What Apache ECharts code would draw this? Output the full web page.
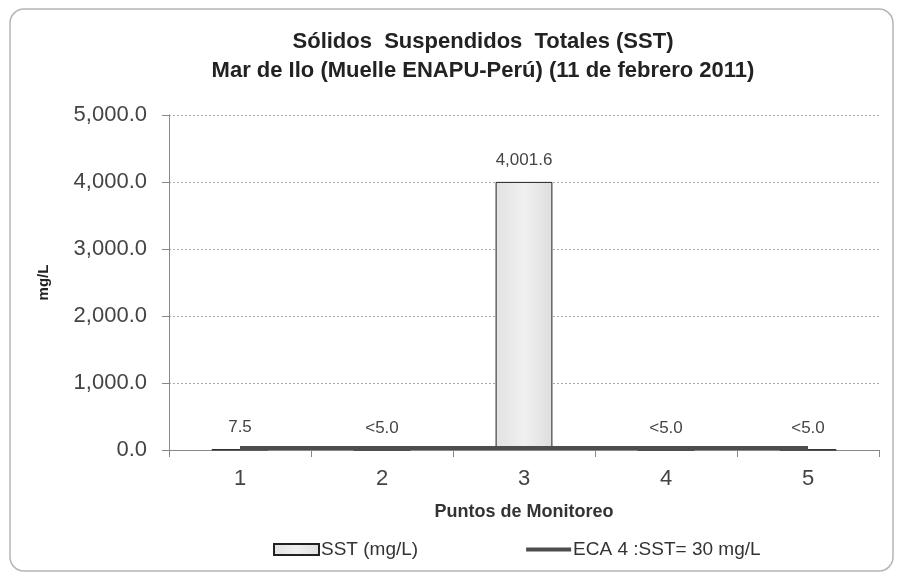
<!DOCTYPE html>
<html>
<head>
<meta charset="utf-8">
<script src="https://cdn.jsdelivr.net/npm/echarts@6/dist/echarts.min.js"></script>
<style>
  html, body { margin: 0; padding: 0; background: #fff; }
  #chart { width: 903px; height: 579px; }
</style>
</head>
<body>
<div id="chart"></div>
<script>
// datos del gráfico
var puntos = ['1', '2', '3', '4', '5'];
var sstValores = [7.5, 5.0, 4001.6, 5.0, 5.0];
var sstEtiquetas = ['7.5', '<5.0', '4,001.6', '<5.0', '<5.0'];
var ecaValores = [30, 30, 30, 30, 30];
var yTicks = [0, 1000, 2000, 3000, 4000, 5000];

var fuente = '"Liberation Sans", Arial, sans-serif';

var chart = echarts.init(document.getElementById('chart'));
chart.setOption({
  animation: false,
  textStyle: { fontFamily: fuente },
  graphic: [
    {
      type: 'rect',
      shape: { x: 10, y: 9, width: 883, height: 562, r: 14 },
      style: { fill: 'none', stroke: '#b5b5b5', lineWidth: 1.5 },
      silent: true
    }
  ],
  title: {
    text: 'Sólidos  Suspendidos  Totales (SST)\nMar de Ilo (Muelle ENAPU-Perú) (11 de febrero 2011)',
    left: 478,
    textAlign: 'center',
    top: 22,
    textStyle: {
      fontFamily: fuente,
      fontSize: 22,
      fontWeight: 'bold',
      color: '#222',
      lineHeight: 29
    }
  },
  grid: { left: 169, right: 24, top: 115, bottom: 129 },
  legend: {
    left: 273,
    top: 540,
    padding: 0,
    itemGap: 108,
    itemWidth: 45,
    itemHeight: 11,
    textStyle: { fontFamily: fuente, fontSize: 19, color: '#333', padding: [0, 0, 0, -3] },
    data: [
      { name: 'SST (mg/L)', icon: 'rect' },
      { name: 'ECA 4 :SST= 30 mg/L', icon: 'path://M0,0H45V4H0Z' }
    ]
  },
  xAxis: {
    type: 'category',
    data: puntos,
    name: 'Puntos de Monitoreo',
    nameLocation: 'middle',
    nameGap: 53,
    nameTextStyle: { fontFamily: fuente, fontSize: 18, fontWeight: 'bold', color: '#333' },
    axisLine: { lineStyle: { color: '#888', width: 1 } },
    axisTick: { show: true, alignWithLabel: false, length: 7, lineStyle: { color: '#888' } },
    axisLabel: { fontSize: 22, color: '#444', margin: 18 }
  },
  yAxis: {
    type: 'value',
    min: yTicks[0],
    max: yTicks[yTicks.length - 1],
    interval: 1000,
    name: 'mg/L',
    nameLocation: 'middle',
    nameGap: 118,
    nameTextStyle: { fontFamily: fuente, fontSize: 15, fontWeight: 'bold', color: '#222' },
    axisLine: { show: true, lineStyle: { color: '#888' } },
    axisTick: { show: true, length: 7, lineStyle: { color: '#888' } },
    axisLabel: {
      fontSize: 22,
      color: '#444',
      margin: 22,
      formatter: function (v) {
        return v.toLocaleString('en-US', { minimumFractionDigits: 1, maximumFractionDigits: 1 });
      }
    },
    splitLine: { show: true, lineStyle: { color: '#aaa', type: [2, 2], width: 1 } }
  },
  series: [
    {
      name: 'SST (mg/L)',
      type: 'bar',
      data: sstValores,
      barWidth: '40%',
      itemStyle: {
        color: new echarts.graphic.LinearGradient(0, 0, 1, 0, [
          { offset: 0, color: '#e2e2e2' },
          { offset: 0.5, color: '#f0f0f0' },
          { offset: 1, color: '#dedede' }
        ]),
        borderColor: '#222',
        borderWidth: 1
      },
      label: {
        show: true,
        position: 'top',
        distance: 13,
        fontSize: 17,
        color: '#444',
        formatter: function (p) { return sstEtiquetas[p.dataIndex]; }
      },
      z: 2
    },
    {
      name: 'ECA 4 :SST= 30 mg/L',
      type: 'line',
      data: ecaValores,
      symbol: 'none',
      lineStyle: { color: '#4d4d4d', width: 4 },
      itemStyle: { color: '#4d4d4d' },
      z: 3
    }
  ]
});
</script>
</body>
</html>
